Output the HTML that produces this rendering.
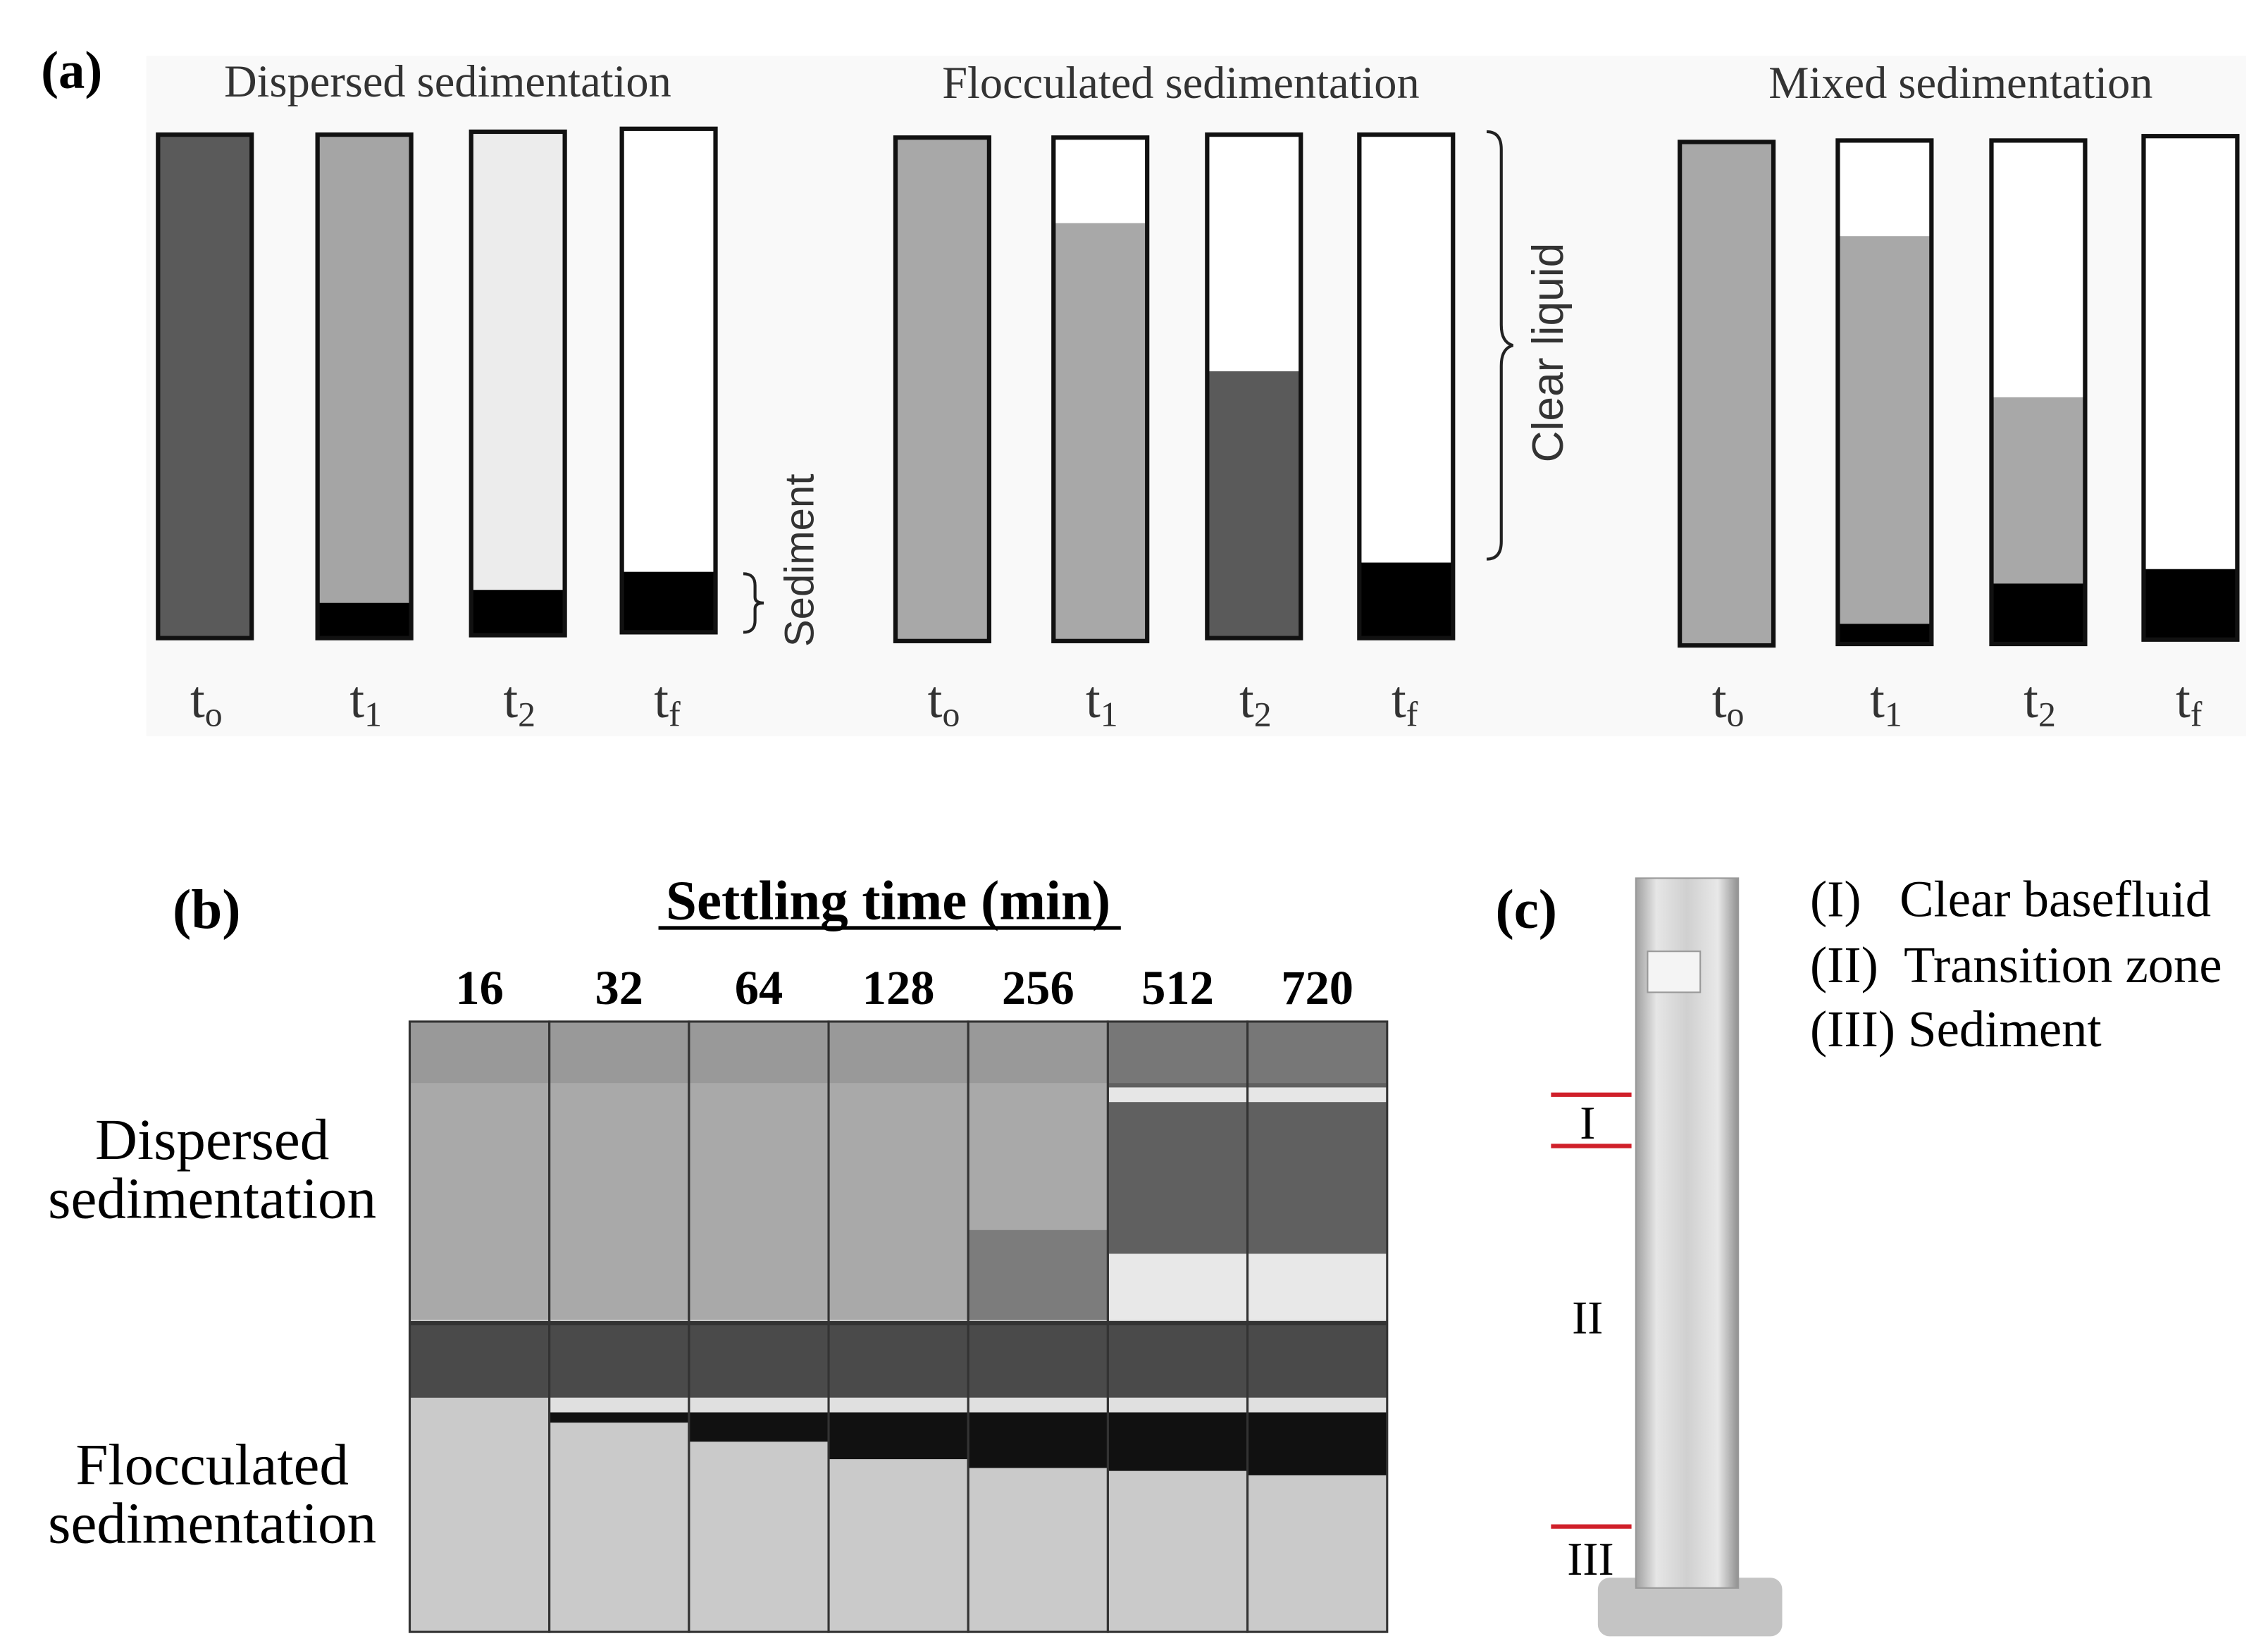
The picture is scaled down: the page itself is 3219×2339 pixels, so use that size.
<!DOCTYPE html>
<html><head><meta charset="utf-8"><style>
html,body{margin:0;padding:0;background:#fff;}
svg{display:block;}
</style></head><body>
<svg id="fig" width="3219" height="2339" viewBox="0 0 1550 1126" preserveAspectRatio="none" xmlns="http://www.w3.org/2000/svg" font-family="Liberation Serif, serif">
<defs>
<linearGradient id="cyl" x1="0" x2="1"><stop offset="0" stop-color="#a0a0a0"/><stop offset="0.2" stop-color="#e6e6e6"/><stop offset="0.5" stop-color="#d0d0d0"/><stop offset="0.8" stop-color="#e8e8e8"/><stop offset="1" stop-color="#909090"/></linearGradient>
</defs>
<rect x="100" y="38" width="1435" height="465" fill="#f9f9f9"/>
<text x="28" y="60" font-size="36" font-weight="bold">(a)</text>
<text x="306" y="66" font-size="31" text-anchor="middle" fill="#333">Dispersed sedimentation</text>
<text x="807" y="67" font-size="31" text-anchor="middle" fill="#333">Flocculated sedimentation</text>
<text x="1340" y="67" font-size="31" text-anchor="middle" fill="#333">Mixed sedimentation</text>
<g id="bars"></g>
<path d="M508,392 q8,0 8,8 v8 q0,4 6,4 q-6,0 -6,4 v8 q0,8 -8,8" fill="none" stroke="#222" stroke-width="2"/>
<text transform="translate(556,442) rotate(-90)" font-family="Liberation Sans, sans-serif" font-size="28" fill="#333">Sediment</text>
<path d="M1016,90 q10,0 10,12 v120 q0,12 8,14 q-8,2 -8,14 v120 q0,12 -10,12" fill="none" stroke="#222" stroke-width="2"/>
<text transform="translate(1068,316) rotate(-90)" font-family="Liberation Sans, sans-serif" font-size="30" fill="#333">Clear liquid</text>

<text x="118" y="634" font-size="38" font-weight="bold">(b)</text>
<text x="607" y="628" font-size="38" font-weight="bold" text-anchor="middle">Settling time (min)</text>
<line x1="450" y1="634" x2="766" y2="634" stroke="#000" stroke-width="2.5"/>
<g id="timeLabels"></g>
<text x="145" y="792" font-size="40" text-anchor="middle"><tspan x="145">Dispersed</tspan><tspan x="145" dy="40">sedimentation</tspan></text>
<text x="145" y="1014" font-size="40" text-anchor="middle"><tspan x="145">Flocculated</tspan><tspan x="145" dy="40">sedimentation</tspan></text>
<g id="photos"></g>

<text x="1022" y="634" font-size="38" font-weight="bold">(c)</text>
<rect x="1092" y="1078" width="126" height="40" rx="8" fill="#c4c4c4"/>
<rect x="1118" y="600" width="70" height="485" fill="url(#cyl)" stroke="#999"/>
<rect x="1126" y="650" width="36" height="28" fill="#f4f4f4" stroke="#999"/>
<line x1="1060" y1="748" x2="1115" y2="748" stroke="#d0202a" stroke-width="3"/>
<line x1="1060" y1="783" x2="1115" y2="783" stroke="#d0202a" stroke-width="3"/>
<line x1="1060" y1="1043" x2="1115" y2="1043" stroke="#d0202a" stroke-width="3"/>
<text x="1085" y="778" font-size="32" text-anchor="middle">I</text>
<text x="1085" y="911" font-size="32" text-anchor="middle">II</text>
<text x="1087" y="1076" font-size="32" text-anchor="middle">III</text>
<text x="1237" y="626" font-size="35">(I)&#160;&#160;&#160;Clear basefluid</text>
<text x="1237" y="671" font-size="35">(II)&#160;&#160;Transition zone</text>
<text x="1237" y="715" font-size="35">(III) Sediment</text>
</svg>
<script>
const groupNames = ["dispersed","flocculated","mixed"];
const groupX = [[108,217,322,425],[612,720,825,929],[1148,1256,1361,1465]];
const timeLabels = ["o","1","2","f"];
const suspTop = [[0,0,0,1],[0,0.17,0.47,1],[0,0.19,0.51,1]];
const sedTop = [[1,0.93,0.91,0.88],[1,1,1,0.85],[1,0.96,0.88,0.86]];
const suspColor = [["#5a5a5a","#a5a5a5","#ececec","#fff"],["#a8a8a8","#a8a8a8","#5a5a5a","#fff"],["#a8a8a8","#a8a8a8","#a8a8a8","#fff"]];
const colTop=[[92,92,90,88],[94,94,92,92],[97,96,96,93]];
const colH=344, colW=64;
const ns="http://www.w3.org/2000/svg";
const bars=document.getElementById('bars');
function mk(tag,attrs,parent){const e=document.createElementNS(ns,tag);for(const k in attrs)e.setAttribute(k,attrs[k]);parent.appendChild(e);return e;}
const yScale=(g,i,f)=>colTop[g][i]+f*colH;
for(let g=0;g<3;g++){for(let i=0;i<4;i++){
  const x=groupX[g][i];
  const bg=mk('rect',{x:x,y:colTop[g][i],width:colW,height:colH,fill:'#fff'},bars);
  
  
  const s=mk('rect',{x:x,y:yScale(g,i,suspTop[g][i]),width:colW,height:Math.max(0,(sedTop[g][i]-suspTop[g][i])*colH),fill:suspColor[g][i]},bars);
  
  
  const sd=mk('rect',{x:x,y:yScale(g,i,sedTop[g][i]),width:colW,height:(1-sedTop[g][i])*colH,fill:'#000'},bars);
  
  
  mk('rect',{x:x,y:colTop[g][i],width:colW,height:colH,fill:'none',stroke:'#111','stroke-width':3},bars);
  const t=mk('text',{x:x+colW/2-10,y:490,'font-size':36,fill:'#333'},bars);
  
  
  t.textContent='t';
  const sub=mk('tspan',{'font-size':24,dy:6},t); sub.textContent=timeLabels[i];
}}
const times=["16","32","64","128","256","512","720"];
const dispDark=[0,0,0,0,0.62,0,0];
const dispWhite=[0,0,0,0,0,0.72,0.72];
const flocBulk=[958,972,985,997,1003,1005,1008];
const px0=280, pw=668/7;
const tl=document.getElementById('timeLabels'), ph=document.getElementById('photos');
times.forEach((tm,i)=>{
  const x=px0+i*pw;
  const t=mk('text',{x:x+pw/2,y:686,'font-size':33,'font-weight':'bold','text-anchor':'middle'},tl);
  
  
  t.textContent=tm;
  const g=mk('g',{},ph);
  
  
  const clear = dispWhite[i]>0;
  mk('rect',{x:x,y:698,width:pw,height:44,fill:clear?'#777':'#999'},g);
  mk('rect',{x:x,y:740,width:pw,height:162,fill:clear?'#606060':'#a9a9a9'},g);
  if(clear){mk('rect',{x:x,y:743,width:pw,height:10,fill:'#e6e6e6'},g);
    mk('rect',{x:x,y:740+dispWhite[i]*162,width:pw,height:162*(1-dispWhite[i]),fill:'#e8e8e8'},g);}
  if(dispDark[i]>0) mk('rect',{x:x,y:740+dispDark[i]*162,width:pw,height:162*(1-dispDark[i]),fill:'#7c7c7c'},g);
  mk('rect',{x:x,y:905,width:pw,height:210,fill:'#cacaca'},g);
  mk('rect',{x:x,y:905,width:pw,height:50,fill:'#4a4a4a'},g);
  if(flocBulk[i]>962){mk('rect',{x:x,y:955,width:pw,height:10,fill:'#e0e0e0'},g);
    mk('rect',{x:x,y:965,width:pw,height:flocBulk[i]-965,fill:'#111'},g);}
  mk('rect',{x:x,y:698,width:pw,height:417,fill:'none',stroke:'#333','stroke-width':1.5},g);
});
mk('line',{x1:280,y1:904,x2:948,y2:904,stroke:'#333','stroke-width':3},ph);
</script>
</body></html>
